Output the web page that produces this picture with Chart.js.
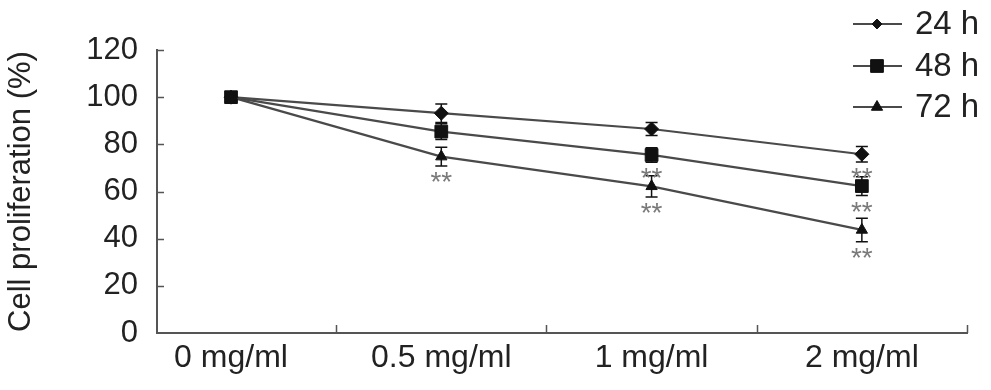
<!DOCTYPE html>
<html><head><meta charset="utf-8">
<script src="https://cdn.jsdelivr.net/npm/chart.js@4.4.1/dist/chart.umd.min.js"></script>
<style>html,body{margin:0;padding:0;background:#fff;} canvas{display:block;}</style>
</head><body>
<canvas id="c" width="991" height="390"></canvas>
<script>
const categories = ['0 mg/ml', '0.5 mg/ml', '1 mg/ml', '2 mg/ml'];
const seriesNames = ['24 h', '48 h', '72 h'];
const values24 = [100, 93.2, 86.5, 75.8];
const values48 = [100, 85.4, 75.5, 62.3];
const values72 = [100, 74.8, 62.2, 43.7];
const errors24 = [0, 3.9, 2.8, 3.3];
const errors48 = [0, 3.3, 3.1, 4.0];
const errors72 = [0, 4.0, 4.5, 5.0];
const stars24 = ['', '', '', '**'];
const stars48 = ['', '', '**', '**'];
const stars72 = ['', '**', '**', '**'];
const yTickValues = [0, 20, 40, 60, 80, 100, 120];

const FONT = "'Liberation Sans', Arial, sans-serif";
const TEXT = '#222';
const AXIS = '#555';
const LINE = '#4a4a4a';
const MARK = '#111';

function pts(vals) { return vals.map((v, i) => ({x: i, y: v})); }

const seriesVals = [values24, values48, values72];
const seriesErr = [errors24, errors48, errors72];
const seriesStars = [stars24, stars48, stars72];
const styles = [
  {pointStyle: 'rectRot', radius: 7},
  {pointStyle: 'rect', radius: 9},
  {pointStyle: 'triangle', radius: 6.5}
];

const datasets = seriesNames.map((name, k) => ({
  label: name,
  data: pts(seriesVals[k]),
  borderColor: LINE,
  borderWidth: 2.2,
  tension: 0,
  fill: false,
  pointStyle: styles[k].pointStyle,
  pointRadius: styles[k].radius,
  pointHoverRadius: styles[k].radius,
  pointBackgroundColor: MARK,
  pointBorderColor: MARK,
  pointBorderWidth: 1,
  errors: seriesErr[k],
  stars: seriesStars[k]
}));

function drawMarker(ctx, style, r, x, y) {
  ctx.beginPath();
  if (style === 'rect') {
    const s = r * Math.SQRT1_2;
    ctx.rect(x - s, y - s, 2 * s, 2 * s);
  } else if (style === 'rectRot') {
    const s = r * Math.SQRT1_2;
    ctx.moveTo(x - s, y); ctx.lineTo(x, y + s); ctx.lineTo(x + s, y); ctx.lineTo(x, y - s); ctx.closePath();
  } else {
    let a = 0;
    ctx.moveTo(x + Math.sin(a) * r, y - Math.cos(a) * r);
    a += 2 * Math.PI / 3; ctx.lineTo(x + Math.sin(a) * r, y - Math.cos(a) * r);
    a += 2 * Math.PI / 3; ctx.lineTo(x + Math.sin(a) * r, y - Math.cos(a) * r);
    ctx.closePath();
  }
  ctx.fillStyle = MARK; ctx.strokeStyle = MARK; ctx.lineWidth = 1;
  ctx.fill(); ctx.stroke();
}

const extras = {
  id: 'extras',
  beforeDatasetsDraw(chart) {
    const ctx = chart.ctx, xs = chart.scales.x, ys = chart.scales.y;
    ctx.save();
    ctx.strokeStyle = MARK; ctx.lineWidth = 1.5;
    chart.data.datasets.forEach(ds => {
      ds.data.forEach((p, i) => {
        const e = ds.errors[i];
        if (!e) return;
        const px = xs.getPixelForValue(p.x);
        const top = ys.getPixelForValue(p.y + e), bot = ys.getPixelForValue(p.y - e);
        ctx.beginPath();
        ctx.moveTo(px, top); ctx.lineTo(px, bot);
        ctx.moveTo(px - 6, top); ctx.lineTo(px + 6, top);
        ctx.moveTo(px - 6, bot); ctx.lineTo(px + 6, bot);
        ctx.stroke();
      });
    });
    ctx.restore();
  },
  afterDatasetsDraw(chart) {
    const ctx = chart.ctx, xs = chart.scales.x, ys = chart.scales.y;
    ctx.save();
    ctx.fillStyle = '#7a7a7a';
    ctx.font = '28px ' + FONT;
    ctx.textAlign = 'center';
    ctx.textBaseline = 'alphabetic';
    chart.data.datasets.forEach(ds => {
      ds.data.forEach((p, i) => {
        const s = ds.stars[i];
        if (!s) return;
        const px = xs.getPixelForValue(p.x);
        const bot = ys.getPixelForValue(p.y - ds.errors[i]);
        ctx.fillText(s, px, bot + 9 + 16);
      });
    });
    ctx.restore();
  },
  afterDraw(chart) {
    const ctx = chart.ctx, xs = chart.scales.x, ys = chart.scales.y, ca = chart.chartArea;
    ctx.save();
    ctx.strokeStyle = AXIS; ctx.lineWidth = 1.5;
    ctx.beginPath();
    yTickValues.forEach(v => {
      if (v === 0) return;
      const py = Math.round(ys.getPixelForValue(v)) + 0.5;
      ctx.moveTo(ca.left, py); ctx.lineTo(ca.left + 7, py);
    });
    [0.5, 1.5, 2.5, 3.5].forEach(v => {
      const px = Math.round(xs.getPixelForValue(v)) + 0.5;
      ctx.moveTo(px, ca.bottom); ctx.lineTo(px, ca.bottom - 8);
    });
    ctx.stroke();
    // legend
    const rows = [24, 66, 107];
    chart.data.datasets.forEach((ds, k) => {
      const y = rows[k];
      ctx.strokeStyle = LINE; ctx.lineWidth = 2.2;
      ctx.beginPath(); ctx.moveTo(853, y); ctx.lineTo(902, y); ctx.stroke();
      drawMarker(ctx, styles[k].pointStyle, styles[k].radius, 877, y);
      ctx.fillStyle = TEXT;
      ctx.font = '33px ' + FONT;
      ctx.textAlign = 'left';
      ctx.textBaseline = 'middle';
      ctx.fillText(ds.label, 915, y + 1);
    });
    ctx.restore();
  }
};

new Chart(document.getElementById('c'), {
  type: 'line',
  data: {datasets},
  options: {
    responsive: false,
    animation: false,
    devicePixelRatio: 1,
    layout: {padding: {top: 50, right: 24, left: 0, bottom: 0}},
    plugins: {legend: {display: false}, tooltip: {enabled: false}},
    scales: {
      x: {
        type: 'linear',
        min: -0.352,
        max: 3.5,
        afterBuildTicks: s => { s.ticks = [0, 0.5, 1, 1.5, 2, 2.5, 3, 3.5].map(v => ({value: v})); },
        afterFit: s => { s.height = 57; },
        ticks: {
          autoSkip: false, maxRotation: 0, minRotation: 0,
          color: TEXT, font: {family: FONT, size: 32}, padding: 6,
          callback: v => Number.isInteger(v) ? categories[v] : ''
        },
        grid: {display: false, drawTicks: false},
        border: {display: true, color: AXIS, width: 2}
      },
      y: {
        min: 0, max: 120,
        afterBuildTicks: s => { s.ticks = yTickValues.map(v => ({value: v})); },
        afterFit: s => { s.width = 157; },
        ticks: {color: TEXT, font: {family: FONT, size: 31}, padding: 19},
        title: {display: true, text: 'Cell proliferation (%)', color: TEXT,
                font: {family: FONT, size: 31}, padding: {top: 3, bottom: 0}},
        grid: {display: false, drawTicks: false},
        border: {display: true, color: AXIS, width: 2}
      }
    }
  },
  plugins: [extras]
});
</script>
</body></html>
